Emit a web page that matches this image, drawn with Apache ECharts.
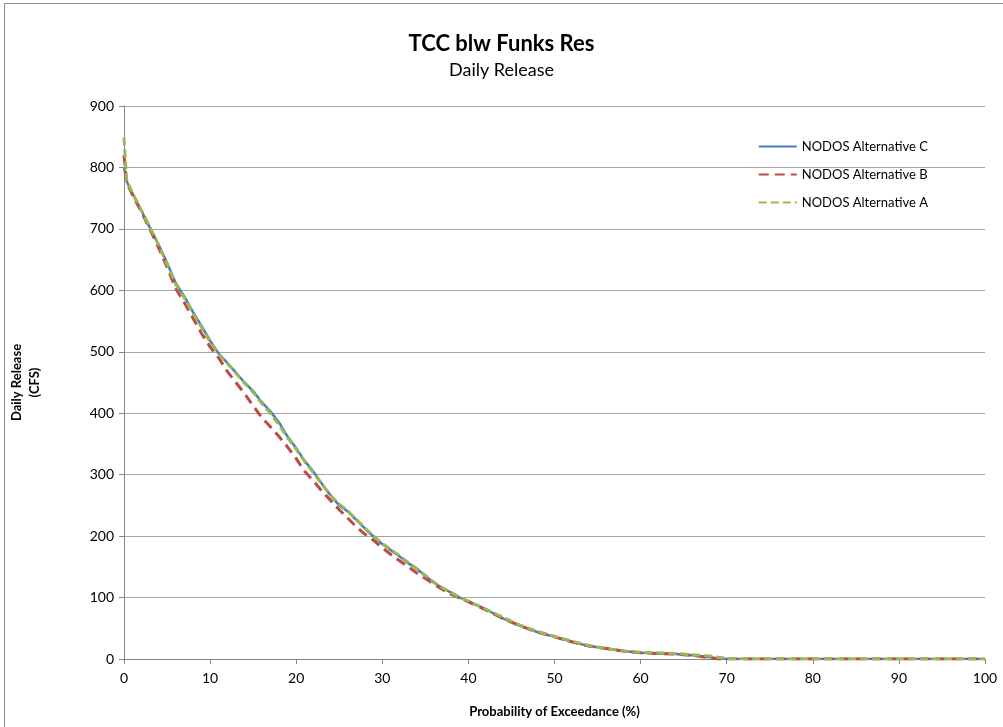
<!DOCTYPE html>
<html>
<head>
<meta charset="utf-8">
<script src="https://cdn.jsdelivr.net/npm/echarts@6/dist/echarts.min.js"></script>
<style>
  html, body { margin: 0; padding: 0; background: #fff; }
  #chart-container { width: 1003px; height: 727px; }
</style>
</head>
<body>
<div id="chart-container"></div>
<script>
// exceedance probability (%)
var exceed = [0, 0.3, 1, 2, 3, 4, 5, 6, 7, 8, 9, 10, 11, 12, 13, 14, 15, 16, 17, 18, 19, 20,
  21, 22, 23, 24, 25, 26, 27, 28, 29, 30, 31, 32, 33, 34, 35, 36, 37, 38, 39, 40,
  42, 44, 46, 48, 50, 52, 54, 56, 58, 60, 62, 64, 66, 68, 69, 70, 72, 75, 80, 85, 90, 95, 100];

var altC = [800, 778, 757, 730, 702, 675, 645, 612, 590, 565, 542, 518, 497, 482, 466, 450, 436, 418, 403, 385, 362, 343,
  322, 305, 285, 266, 250, 240, 226, 212, 199, 187, 177, 167, 156, 147, 135, 124, 115, 108, 100, 94,
  81, 66, 54, 44, 36, 28, 21, 17, 13, 10, 9, 8, 6, 3, 1, 0, 0, 0, 0, 0, 0, 0, 0];

var altB = [820, 776, 755, 728, 700, 670, 638, 603, 580, 555, 530, 508, 490, 468, 450, 432, 412, 393, 378, 362, 345, 326,
  305, 290, 273, 258, 243, 229, 215, 203, 193, 181, 170, 160, 150, 140, 131, 122, 113, 105, 99, 93,
  80, 66, 54, 44, 36, 28, 21, 17, 13, 10, 9, 8, 6, 2, 0, 0, 0, 0, 0, 0, 0, 0, 0];

var altA = [849, 780, 758, 731, 703, 674, 643, 610, 588, 563, 540, 516, 496, 481, 465, 449, 434, 416, 400, 381, 360, 341,
  321, 303, 284, 266, 252, 241, 227, 213, 200, 188, 178, 168, 157, 147, 136, 125, 116, 108, 100, 94,
  81, 68, 55, 45, 37, 29, 22, 17, 13, 11, 10, 9, 7, 5, 3, 1, 0, 0, 0, 0, 0, 0, 0];

var xTicks = [0, 10, 20, 30, 40, 50, 60, 70, 80, 90, 100];
var yTicks = [0, 100, 200, 300, 400, 500, 600, 700, 800, 900];

function pairs(ys) {
  return exceed.map(function (x, i) { return [x, ys[i]]; });
}

var font = 'Lato, "Open Sans", sans-serif';

var dom = document.getElementById('chart-container');
var myChart = echarts.init(dom, null, { renderer: 'canvas' });

var option = {
  animation: false,
  textStyle: { fontFamily: font },
  title: {
    text: 'TCC blw Funks Res',
    subtext: 'Daily Release',
    left: 'center',
    top: 28,
    itemGap: 6,
    textStyle: { fontFamily: font, fontSize: 22, fontWeight: 'bold', color: '#000' },
    subtextStyle: { fontFamily: font, fontSize: 18, color: '#000' }
  },
  graphic: [{
    type: 'rect',
    shape: { x: 4.5, y: 3.5, width: 1010, height: 740 },
    style: { fill: 'none', stroke: '#8c8c8c', lineWidth: 1 }
  }],
  legend: {
    orient: 'vertical',
    right: 70,
    top: 135,
    itemWidth: 38,
    itemHeight: 14,
    itemGap: 15,
    itemStyle: { opacity: 0 },
    textStyle: { fontFamily: font, fontSize: 13, color: '#000' },
    data: ['NODOS Alternative C', 'NODOS Alternative B', 'NODOS Alternative A']
  },
  grid: { left: 124, right: 18, top: 106, bottom: 68 },
  xAxis: {
    type: 'value',
    min: xTicks[0],
    max: xTicks[xTicks.length - 1],
    interval: 10,
    name: 'Probability of Exceedance (%)',
    nameLocation: 'middle',
    nameGap: 46,
    nameTextStyle: { fontFamily: font, fontSize: 13, fontWeight: 'bold', color: '#000' },
    axisLine: { lineStyle: { color: '#868686', width: 1 } },
    axisTick: { show: true, length: 5, lineStyle: { color: '#868686' } },
    axisLabel: { fontFamily: font, fontSize: 14, color: '#000', margin: 12 },
    splitLine: { show: false }
  },
  yAxis: {
    type: 'value',
    min: yTicks[0],
    max: yTicks[yTicks.length - 1],
    interval: 100,
    name: 'Daily Release\n(CFS)',
    nameLocation: 'middle',
    nameRotate: 90,
    nameGap: 80,
    nameTextStyle: { fontFamily: font, fontSize: 13, fontWeight: 'bold', color: '#000', lineHeight: 18 },
    axisLine: { show: true, lineStyle: { color: '#868686', width: 1 } },
    axisTick: { show: true, length: 5, lineStyle: { color: '#868686' } },
    axisLabel: { fontFamily: font, fontSize: 14, color: '#000', margin: 10 },
    splitLine: { show: true, lineStyle: { color: '#a6a6a6', width: 1.2 } }
  },
  series: [
    {
      name: 'NODOS Alternative C',
      type: 'line',
      symbol: 'none',
      data: pairs(altC),
      lineStyle: { color: '#4a7ebb', width: 2.5 },
      itemStyle: { color: '#4a7ebb' }
    },
    {
      name: 'NODOS Alternative B',
      type: 'line',
      symbol: 'none',
      data: pairs(altB),
      lineStyle: { color: '#be4b48', width: 3, type: [10, 6] },
      itemStyle: { color: '#be4b48' }
    },
    {
      name: 'NODOS Alternative A',
      type: 'line',
      symbol: 'none',
      data: pairs(altA),
      lineStyle: { color: '#98b954', width: 3, type: [8, 4] },
      itemStyle: { color: '#98b954' }
    }
  ]
};

if (option && typeof option === 'object') {
  myChart.setOption(option);
}

window.addEventListener('resize', myChart.resize);
</script>
</body>
</html>
